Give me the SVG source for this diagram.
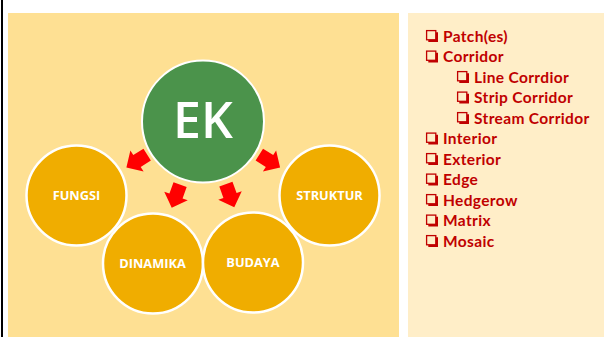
<svg xmlns="http://www.w3.org/2000/svg" xmlns:xlink="http://www.w3.org/1999/xlink" width="604" height="337" viewBox="0 0 604 337">
  <style>
    .node { fill: #F0AD00; stroke: #FFFFFF; stroke-width: 2.5; }
    .hub { fill: #4B934B; stroke: #FFFFFF; stroke-width: 2; }
    .nlabel { font-family: "Open Sans", "Liberation Sans", sans-serif; font-weight: bold; font-size: 12.8px; fill: #FFFFFF; text-anchor: middle; }
    .hlabel { font-family: "Open Sans", "Liberation Sans", sans-serif; font-weight: 600; font-size: 50px; fill: #FFFFFF; text-anchor: middle; }
    .arrow { fill: #FF0000; }
    .item { font-family: Lato, "Liberation Sans", sans-serif; font-weight: bold; font-size: 15.5px; letter-spacing: 0.35px; fill: #C00000; }
    .box { fill: none; stroke: #C00000; }
  </style>
  <defs>
    <polygon id="arr" points="-12,-7 0,-7 0,-12.5 12.5,0 0,12.5 0,7 -12,7"/>
    <g id="chk">
      <rect class="box" x="0.6" y="-10.9" width="9.2" height="9.2" stroke-width="1.3"/>
      <polyline class="box" points="10.9,-9.2 10.9,-0.6 2.3,-0.6" stroke-width="2.2"/>
    </g>
  </defs>
  <rect x="0" y="0" width="604" height="337" fill="#FFFFFF"/>
  <rect x="1" y="0" width="2" height="337" fill="#000000"/>
  <rect x="8" y="13" width="391" height="324" fill="#FEE093"/>
  <rect x="408" y="13" width="196" height="324" fill="#FFEEC8"/>

  <g id="connectors">
    <use xlink:href="#arr" class="arrow" transform="translate(137,161) rotate(148)"/>
    <use xlink:href="#arr" class="arrow" transform="translate(176,196) rotate(110)"/>
    <use xlink:href="#arr" class="arrow" transform="translate(230,195.5) rotate(70)"/>
    <use xlink:href="#arr" class="arrow" transform="translate(269.5,161) rotate(32)"/>
  </g>

  <g id="node-ek">
    <circle class="hub" cx="203" cy="121.5" r="61"/>
    <text class="hlabel" x="203" y="137.5">EK</text>
  </g>
  <g id="node-fungsi">
    <circle class="node" cx="76.5" cy="195.5" r="50"/>
    <text class="nlabel" x="76.5" y="199.5">FUNGSI</text>
  </g>
  <g id="node-dinamika">
    <circle class="node" cx="153" cy="263.5" r="50"/>
    <text class="nlabel" x="152.5" y="268">DINAMIKA</text>
  </g>
  <g id="node-budaya">
    <circle class="node" cx="253" cy="262.5" r="50"/>
    <text class="nlabel" x="253" y="266.5">BUDAYA</text>
  </g>
  <g id="node-struktur">
    <circle class="node" cx="329.5" cy="195.5" r="50"/>
    <text class="nlabel" x="329.5" y="199.5">STRUKTUR</text>
  </g>

  <g id="list">
    <use xlink:href="#chk" x="426" y="41.5"/><text class="item" x="443" y="41.5">Patch(es)</text>
    <use xlink:href="#chk" x="426" y="62"/><text class="item" x="443" y="62">Corridor</text>
    <use xlink:href="#chk" x="457" y="82.5"/><text class="item" x="474" y="82.5">Line Corrdior</text>
    <use xlink:href="#chk" x="457" y="103"/><text class="item" x="474" y="103">Strip Corridor</text>
    <use xlink:href="#chk" x="457" y="123.5"/><text class="item" x="474" y="123.5">Stream Corridor</text>
    <use xlink:href="#chk" x="426" y="144"/><text class="item" x="443" y="144">Interior</text>
    <use xlink:href="#chk" x="426" y="164.5"/><text class="item" x="443" y="164.5">Exterior</text>
    <use xlink:href="#chk" x="426" y="185"/><text class="item" x="443" y="185">Edge</text>
    <use xlink:href="#chk" x="426" y="205.5"/><text class="item" x="443" y="205.5">Hedgerow</text>
    <use xlink:href="#chk" x="426" y="226"/><text class="item" x="443" y="226">Matrix</text>
    <use xlink:href="#chk" x="426" y="246.5"/><text class="item" x="443" y="246.5">Mosaic</text>
  </g>
</svg>
